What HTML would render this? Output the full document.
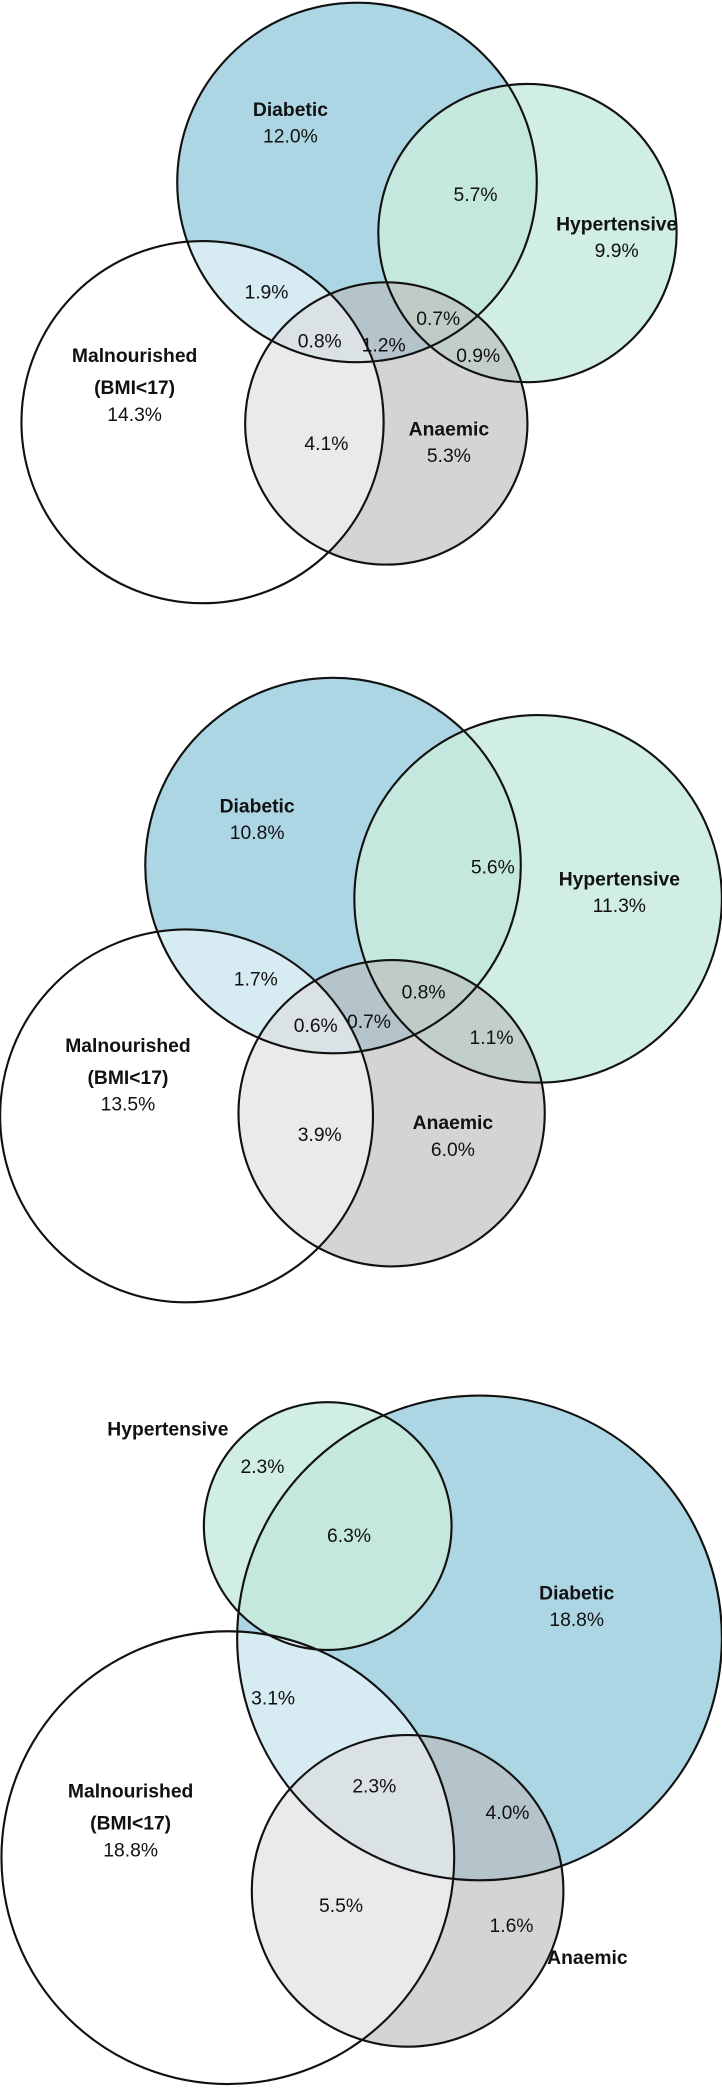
<!DOCTYPE html>
<html><head><meta charset="utf-8">
<style>html,body{margin:0;padding:0;background:#fff}svg{display:block}text{font-family:"Liberation Sans",sans-serif;font-size:14.5px;text-anchor:middle;fill:#111}.b{font-weight:bold}</style>
</head><body>
<svg id="chart" width="722" height="2088" viewBox="0 0 542 1568" xmlns="http://www.w3.org/2000/svg"></svg>
<script>
const setNames=["Diabetic","Hypertensive","Anaemic","Malnourished"];
const setFills=["#add6e4","#c8ebdc","#b9b9b9","#ffffff"];
const setOpac=[1,0.85,0.62,0.5];
const circles1=[[268,137,135],[396,175,112],[290,318,106],[152,317,136]];
const circles2=[[250,650,141],[404,675,138],[294,836,115],[140,838,140]];
const circles3=[[360,1230,182],[246,1146,93],[306,1420,117],[171,1395,170]];
const labels1=[["Diabetic",218,87,1],["12.0%",218,107,0],["5.7%",357,151,0],["Hypertensive",463,173,1],["9.9%",463,193,0],["1.9%",200,224,0],["0.8%",240,261,0],["1.2%",288,264,0],["0.7%",329,244,0],["0.9%",359,272,0],["Malnourished",101,272,1],["(BMI<17)",101,296,1],["14.3%",101,316,0],["4.1%",245,338,0],["Anaemic",337,327,1],["5.3%",337,347,0]];
const labels2=[["Diabetic",193,610,1],["10.8%",193,630,0],["5.6%",370,656,0],["Hypertensive",465,665,1],["11.3%",465,685,0],["1.7%",192,740,0],["0.6%",237,775,0],["0.7%",277,772,0],["0.8%",318,750,0],["1.1%",369,784,0],["Malnourished",96,790,1],["(BMI<17)",96,814,1],["13.5%",96,834,0],["3.9%",240,857,0],["Anaemic",340,848,1],["6.0%",340,868,0]];
const labels3=[["Hypertensive",126,1078,1],["2.3%",197,1106,0],["6.3%",262,1158,0],["Diabetic",433,1201,1],["18.8%",433,1221,0],["3.1%",205,1280,0],["2.3%",281,1346,0],["4.0%",381,1366,0],["Malnourished",98,1350,1],["(BMI<17)",98,1374,1],["18.8%",98,1394,0],["5.5%",256,1436,0],["1.6%",384,1451,0],["Anaemic",441,1475,1]];
const svg=document.getElementById('chart');
const NS="http://www.w3.org/2000/svg";
function draw(circles,labels,idx){
  const g=document.createElementNS(NS,'g');
  
  
  svg.appendChild(g);
  circles.forEach((c,i)=>{
    const e=document.createElementNS(NS,'circle');
    e.setAttribute('cx',c[0]);e.setAttribute('cy',c[1]);e.setAttribute('r',c[2]);
    e.setAttribute('fill',setFills[i]);e.setAttribute('fill-opacity',setOpac[i]);
    
    
    g.appendChild(e);
  });
  circles.forEach((c,i)=>{
    const e=document.createElementNS(NS,'circle');
    e.setAttribute('cx',c[0]);e.setAttribute('cy',c[1]);e.setAttribute('r',c[2]);
    e.setAttribute('fill','none');e.setAttribute('stroke','#111');e.setAttribute('stroke-width','1.6');
    
    
    g.appendChild(e);
  });
  labels.forEach(l=>{
    const t=document.createElementNS(NS,'text');
    t.setAttribute('x',l[1]);t.setAttribute('y',l[2]);
    if(l[3])t.setAttribute('class','b');
    t.textContent=l[0];
    
    
    g.appendChild(t);
  });
}
draw(circles1,labels1,1);draw(circles2,labels2,2);draw(circles3,labels3,3);
</script>
</body></html>
